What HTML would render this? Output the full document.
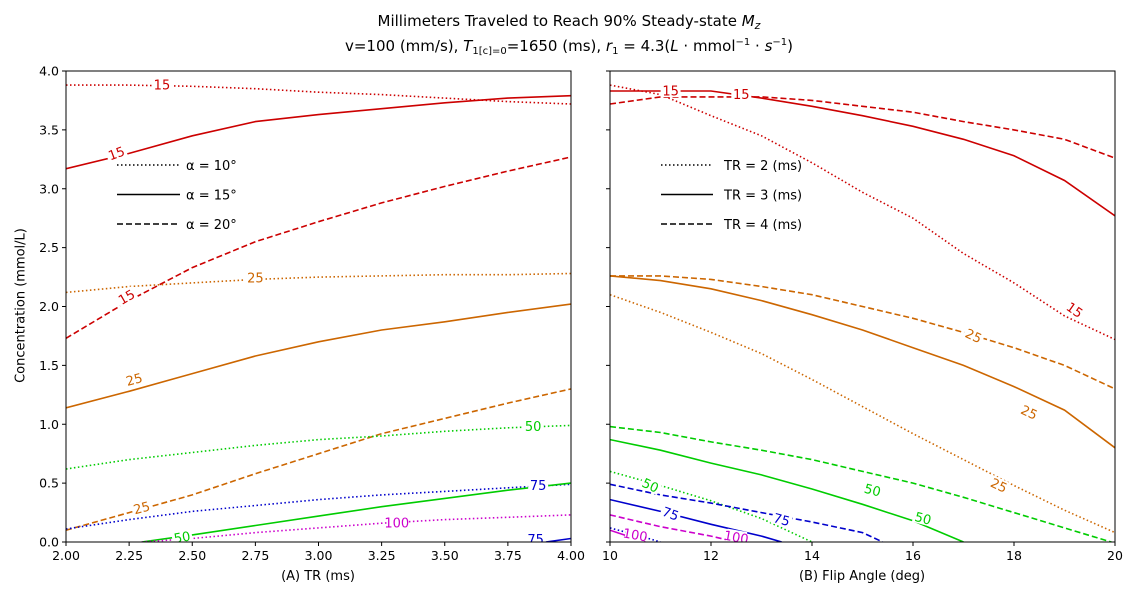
<!DOCTYPE html>
<html><head><meta charset="utf-8"><style>
body{margin:0;background:#fff;font-family:"Liberation Sans","DejaVu Sans",sans-serif}
svg text{font-family:"DejaVu Sans","Liberation Sans",sans-serif}
</style></head><body>
<svg id="c" width="1139" height="600" xmlns="http://www.w3.org/2000/svg">
<rect width="1139" height="600" fill="#fff"/>
<text x="569" y="26" text-anchor="middle" font-size="15">Millimeters Traveled to Reach 90% Steady-state <tspan font-style="italic">M</tspan><tspan font-style="italic" font-size="11" dy="3">z</tspan></text>
<text x="569" y="51" text-anchor="middle" font-size="15">v=100 (mm/s), <tspan font-style="italic">T</tspan><tspan font-size="10" dy="3">1[c]=0</tspan><tspan dy="-3">=1650 (ms), </tspan><tspan font-style="italic">r</tspan><tspan font-size="10" dy="3">1</tspan><tspan dy="-3"> = 4.3(</tspan><tspan font-style="italic">L</tspan> · mmol<tspan font-size="10" dy="-6">−1</tspan><tspan dy="6"> · </tspan><tspan font-style="italic">s</tspan><tspan font-size="10" dy="-6">−1</tspan><tspan dy="6">)</tspan></text>
<defs>
<clipPath id="clipA"><rect x="66" y="71" width="505" height="471"/></clipPath>
<clipPath id="clipB"><rect x="610" y="71" width="505" height="471"/></clipPath>
</defs>
<g id="gA" clip-path="url(#clipA)"></g>
<g id="gB" clip-path="url(#clipB)"></g>
<g id="axes"></g>
</svg>
<script>
// ---- data ----
const colors={15:"#cc0000",25:"#cc6600",50:"#00cc00",75:"#0000cc",100:"#cc00cc"};
const styles={dot:"1.5,2.5",solid:"",dash:"6,3"};
const yTicks=[0,0.5,1,1.5,2,2.5,3,3.5,4];
const xTicksA=[2,2.25,2.5,2.75,3,3.25,3.5,3.75,4];
const xTicksB=[10,12,14,16,18,20];
const aX=[2,2.25,2.5,2.75,3,3.25,3.5,3.75,4];
const a15dot=[3.88,3.88,3.87,3.85,3.82,3.8,3.77,3.74,3.72];
const a15solid=[3.17,3.3,3.45,3.57,3.63,3.68,3.73,3.77,3.79];
const a15dash=[1.73,2.05,2.33,2.55,2.72,2.88,3.02,3.15,3.27];
const a25dot=[2.12,2.17,2.2,2.23,2.25,2.26,2.27,2.27,2.28];
const a25solid=[1.14,1.28,1.43,1.58,1.7,1.8,1.87,1.95,2.02];
const a25dash=[0.1,0.25,0.4,0.58,0.75,0.92,1.05,1.18,1.3];
const a50dot=[0.62,0.7,0.76,0.82,0.87,0.9,0.94,0.97,0.99];
const a75dot=[0.11,0.19,0.26,0.31,0.36,0.4,0.43,0.46,0.49];
const a50solidX=[2.3,2.5,2.75,3,3.25,3.5,3.75,4];
const a50solid=[0,0.06,0.14,0.22,0.3,0.37,0.44,0.5];
const a100dotX=[2.3,2.5,2.75,3,3.25,3.5,3.75,4];
const a100dot=[0,0.03,0.08,0.12,0.16,0.19,0.21,0.23];
const a75solidX=[3.9,4];
const a75solid=[0,0.03];
const bX=[10,11,12,13,14,15,16,17,18,19,20];
const b15dot=[3.88,3.8,3.62,3.45,3.22,2.97,2.75,2.45,2.2,1.92,1.72];
const b15solid=[3.83,3.83,3.83,3.77,3.7,3.62,3.53,3.42,3.28,3.07,2.77];
const b15dash=[3.72,3.78,3.78,3.78,3.75,3.7,3.65,3.57,3.5,3.42,3.26];
const b25dot=[2.1,1.95,1.78,1.6,1.38,1.15,0.92,0.7,0.48,0.27,0.08];
const b25solid=[2.26,2.22,2.15,2.05,1.93,1.8,1.65,1.5,1.32,1.12,0.8];
const b25dash=[2.26,2.26,2.23,2.17,2.1,2.0,1.9,1.78,1.65,1.5,1.3];
const b50dash=[0.98,0.93,0.85,0.78,0.7,0.6,0.5,0.38,0.25,0.12,-0.01];
const b50solidX=[10,11,12,13,14,15,16,17];
const b50solid=[0.87,0.78,0.67,0.57,0.45,0.32,0.18,0];
const b50dotX=[10,11,12,13,14];
const b50dot=[0.6,0.48,0.35,0.2,0];
const b75dashX=[10,11,12,13,14,15,15.4];
const b75dash=[0.49,0.4,0.33,0.25,0.17,0.08,0];
const b75solidX=[10,11,12,13,13.4];
const b75solid=[0.36,0.26,0.15,0.05,0];
const b75dotX=[10,10.6,11];
const b75dot=[0.12,0.05,0];
const b100dashX=[10,11,12,12.5];
const b100dash=[0.23,0.13,0.05,0];
const b100solidX=[10,10.7];
const b100solid=[0.1,0];
const labelsA=[[15,2.38,3.88,0],[15,2.2,3.3,-20],[15,2.24,2.08,-30],[25,2.75,2.24,0],[25,2.27,1.38,-15],[25,2.3,0.29,-15],[50,3.85,0.98,0],[50,2.46,0.04,-10],[75,3.87,0.48,0],[75,3.86,0.02,0],[100,3.31,0.16,0]];
const labelsB=[[15,11.2,3.83,0],[15,12.6,3.8,0],[15,19.2,1.97,35],[25,17.2,1.75,25],[25,18.3,1.1,25],[25,17.7,0.48,25],[50,10.8,0.48,25],[50,15.2,0.44,15],[50,16.2,0.2,15],[75,11.2,0.24,20],[75,13.4,0.19,15],[100,10.5,0.06,10],[100,12.5,0.04,10]];

const NS="http://www.w3.org/2000/svg";
const topY=71,bot=542,hh=471;
function fy(v){return bot-v/4*hh;}
function fxA(v){return 66+(v-2)/2*505;}
function fxB(v){return 610+(v-10)/10*505;}
function mk(tag,at,parent){const e=document.createElementNS(NS,tag);for(const k in at)e.setAttribute(k,at[k]);parent.appendChild(e);return e;}
const gA=document.getElementById('gA'),gB=document.getElementById('gB'),ax=document.getElementById('axes');
function line(g,fx,level,st,xs,ys,name){
  const d=xs.map((x,i)=>(i?'L':'M')+fx(x).toFixed(1)+','+fy(ys[i]).toFixed(1)).join('');
  const p=mk('path',{d:d,fill:'none',stroke:colors[level],'stroke-width':1.6,'stroke-dasharray':styles[st]},g);
  
  
}
line(gA,fxA,15,'dot',aX,a15dot,'a-contour-15-alpha10');
line(gA,fxA,15,'solid',aX,a15solid,'a-contour-15-alpha15');
line(gA,fxA,15,'dash',aX,a15dash,'a-contour-15-alpha20');
line(gA,fxA,25,'dot',aX,a25dot,'a-contour-25-alpha10');
line(gA,fxA,25,'solid',aX,a25solid,'a-contour-25-alpha15');
line(gA,fxA,25,'dash',aX,a25dash,'a-contour-25-alpha20');
line(gA,fxA,50,'dot',aX,a50dot,'a-contour-50-alpha10');
line(gA,fxA,75,'dot',aX,a75dot,'a-contour-75-alpha10');
line(gA,fxA,50,'solid',a50solidX,a50solid,'a-contour-50-alpha15');
line(gA,fxA,100,'dot',a100dotX,a100dot,'a-contour-100-alpha10');
line(gA,fxA,75,'solid',a75solidX,a75solid,'a-contour-75-alpha15');
line(gB,fxB,15,'dot',bX,b15dot,'b-contour-15-tr2');
line(gB,fxB,15,'solid',bX,b15solid,'b-contour-15-tr3');
line(gB,fxB,15,'dash',bX,b15dash,'b-contour-15-tr4');
line(gB,fxB,25,'dot',bX,b25dot,'b-contour-25-tr2');
line(gB,fxB,25,'solid',bX,b25solid,'b-contour-25-tr3');
line(gB,fxB,25,'dash',bX,b25dash,'b-contour-25-tr4');
line(gB,fxB,50,'dash',bX,b50dash,'b-contour-50-tr4');
line(gB,fxB,50,'solid',b50solidX,b50solid,'b-contour-50-tr3');
line(gB,fxB,50,'dot',b50dotX,b50dot,'b-contour-50-tr2');
line(gB,fxB,75,'dash',b75dashX,b75dash,'b-contour-75-tr4');
line(gB,fxB,75,'solid',b75solidX,b75solid,'b-contour-75-tr3');
line(gB,fxB,75,'dot',b75dotX,b75dot,'b-contour-75-tr2');
line(gB,fxB,100,'dash',b100dashX,b100dash,'b-contour-100-tr4');
line(gB,fxB,100,'solid',b100solidX,b100solid,'b-contour-100-tr3');
function labels(g,fx,arr,prefix){
  arr.forEach(l=>{
    const x=fx(l[1]),y=fy(l[2]);
    const r=mk('rect',{x:x-10,y:y-7,width:20,height:13,fill:'#fff',transform:`rotate(${l[3]} ${x} ${y})`},g);
    
    
    const t=mk('text',{x:x,y:y+4.5,'text-anchor':'middle','font-size':13,fill:colors[l[0]],transform:`rotate(${l[3]} ${x} ${y})`},g);
    t.textContent=l[0];
    
    
  });
}
labels(gA,fxA,labelsA,'a-contour');
labels(gB,fxB,labelsB,'b-contour');
[[66,'panel-a-frame'],[610,'panel-b-frame']].forEach(f=>{
  const r=mk('rect',{x:f[0],y:topY,width:505,height:hh,fill:'none',stroke:'#000','stroke-width':1},ax);
  
  
});
yTicks.forEach(v=>{
  const y=fy(v);
  mk('line',{x1:62,x2:66,y1:y,y2:y,stroke:'#000'},ax);
  mk('line',{x1:606,x2:610,y1:y,y2:y,stroke:'#000'},ax);
  const t=mk('text',{x:59,y:y+4.5,'text-anchor':'end','font-size':12.5},ax);
  t.textContent=v.toFixed(1);
  
  
});
xTicksA.forEach(v=>{
  const x=fxA(v);
  mk('line',{x1:x,x2:x,y1:bot,y2:bot+4,stroke:'#000'},ax);
  const t=mk('text',{x:x,y:bot+18,'text-anchor':'middle','font-size':12.5},ax);
  t.textContent=v.toFixed(2);
  
  
});
xTicksB.forEach(v=>{
  const x=fxB(v);
  mk('line',{x1:x,x2:x,y1:bot,y2:bot+4,stroke:'#000'},ax);
  const t=mk('text',{x:x,y:bot+18,'text-anchor':'middle','font-size':12.5},ax);
  t.textContent=v;
  
  
});
const legA=['α = 10°','α = 15°','α = 20°'],legB=['TR =  2 (ms)','TR =  3 (ms)','TR =  4 (ms)'],legS=['dot','solid','dash'];
legS.forEach((s,i)=>{
  const y=165+i*29.5;
  mk('line',{x1:117,x2:180,y1:y,y2:y,stroke:'#000','stroke-width':1.6,'stroke-dasharray':styles[s]},ax);
  mk('line',{x1:661,x2:713,y1:y,y2:y,stroke:'#000','stroke-width':1.6,'stroke-dasharray':styles[s]},ax);
  const t=mk('text',{x:186,y:y+5,'font-size':13},ax);t.textContent=legA[i];
  
  
  const t2=mk('text',{x:724,y:y+5,'font-size':13,'xml:space':'preserve'},ax);t2.textContent=legB[i];
  
  
});
</script>
<div style="position:absolute;left:0;top:0;width:1139px;height:600px;pointer-events:none">
<div style="position:absolute;left:218px;top:569px;width:200px;text-align:center;font:13px 'DejaVu Sans','Liberation Sans',sans-serif">(A) TR (ms)</div>
<div style="position:absolute;left:762px;top:569px;width:200px;text-align:center;font:13px 'DejaVu Sans','Liberation Sans',sans-serif">(B) Flip Angle (deg)</div>
<div style="position:absolute;left:-79px;top:298px;width:200px;text-align:center;transform:rotate(-90deg);font:13px 'DejaVu Sans','Liberation Sans',sans-serif">Concentration (mmol/L)</div>
</div>
</body></html>
